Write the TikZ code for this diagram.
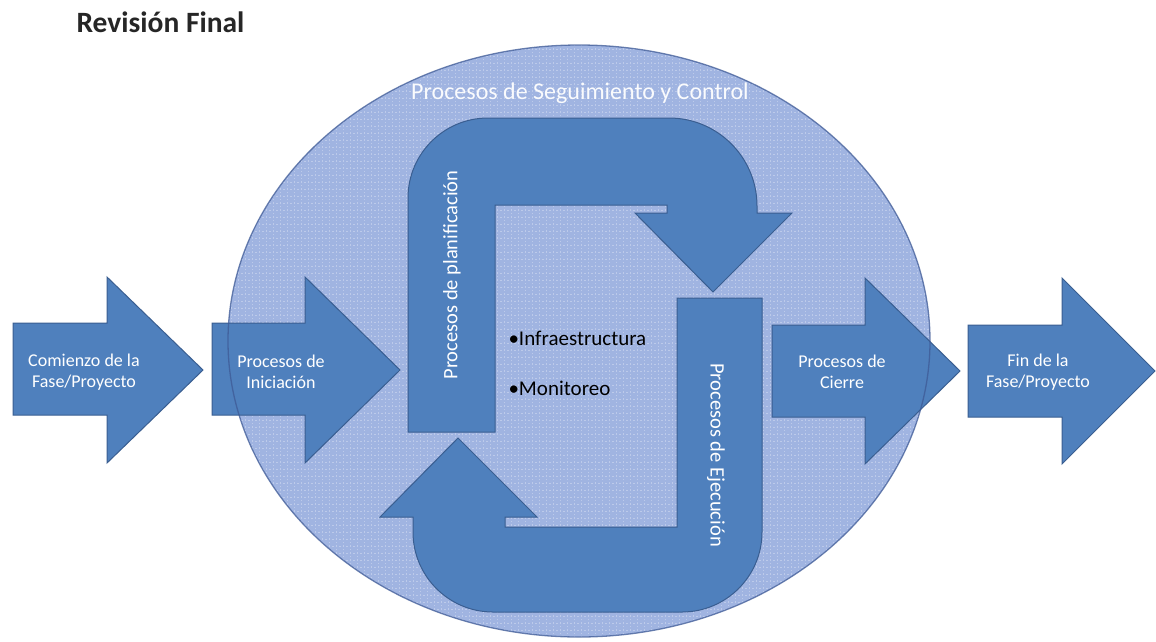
\documentclass[tikz,border=0pt]{standalone}
\usepackage{fontspec}
\setmainfont{Carlito}
\definecolor{arrowblue}{RGB}{79,128,189}
\definecolor{arrowedge}{RGB}{58,94,145}
\definecolor{ringfill}{RGB}{160,180,225}
\definecolor{ringedge}{RGB}{62,90,150}
\begin{document}
\begin{tikzpicture}[x=1pt,y=-1pt,
  blockarr/.style={fill=arrowblue, draw=arrowedge, line width=1pt, line join=miter},
  arrtext/.style={text=white, align=center, font=\fontsize{18}{21}\selectfont},
  bartext/.style={text=white, font=\fontsize{20.5}{24}\selectfont},
  listtext/.style={text=black, anchor=west, font=\fontsize{21}{24}\selectfont}]
\useasboundingbox (0,0) rectangle (1156,641);
\fill[white] (0,0) rectangle (1156,641);

% monitoring ring with its fine grid texture
\fill[ringfill] (579,341) ellipse [x radius=351, y radius=296];
\begin{scope}
  \clip (579,341) ellipse [x radius=351, y radius=296];
  \draw[white, opacity=0.3, line width=0.9pt, dash pattern=on 1.5pt off 2pt]
    (220,40) grid[step=7pt] (940,641);
\end{scope}

% straight phase arrows
\draw[blockarr] (13,323) -- (107,323) -- (107,277) -- (203,370) -- (107,463) -- (107,415) -- (13,415) -- cycle;
\draw[blockarr] (212,323) -- (305,323) -- (305,277) -- (400,370) -- (305,463) -- (305,415) -- (212,415) -- cycle;
\draw[blockarr] (772,325) -- (865,325) -- (865,278) -- (960,371) -- (865,464) -- (865,417) -- (772,417) -- cycle;
\draw[blockarr] (968,325) -- (1062,325) -- (1062,278) -- (1155,371) -- (1062,464) -- (1062,417) -- (968,417) -- cycle;

% ring outline laid over the arrows
\draw[ringedge, opacity=0.75, line width=1.3pt] (579,341) ellipse [x radius=351, y radius=296];

% planning U-turn arrow
\draw[blockarr] (408,432) -- (408,198) arc[start angle=180, end angle=270, radius=80]
  -- (669,118) arc[start angle=270, end angle=360, radius=88]
  -- (757,213) -- (792,213) -- (713,292) -- (635,213) -- (667,213) -- (667,205)
  -- (495,205) -- (495,432) -- cycle;

% execution U-turn arrow
\draw[blockarr] (677,298) -- (762,298) -- (762,532) arc[start angle=0, end angle=90, radius=80]
  -- (493,612) arc[start angle=90, end angle=180, radius=80]
  -- (413,517) -- (380,517) -- (458,438) -- (537,517) -- (505,517) -- (505,527)
  -- (677,527) -- cycle;

% labels
\node[anchor=west, text=black!85, font=\bfseries\fontsize{29.5}{32}\selectfont] (title) at (73,22) {Revisión Final};
\node[text=white!95!ringfill, font=\fontsize{24}{28}\selectfont] (control) at (580,93) {Procesos de Seguimiento y Control};
\node[arrtext] (start) at (84,372) {Comienzo de la\\Fase/Proyecto};
\node[arrtext] (init) at (281,372) {Procesos de\\Iniciación};
\node[arrtext] (close) at (842,372) {Procesos de\\Cierre};
\node[arrtext] (finish) at (1038,372) {Fin de la\\Fase/Proyecto};
\node[bartext, rotate=90] (plan) at (452,275) {Procesos de planificación};
\node[bartext, rotate=-90] (exec) at (716,455) {Procesos de Ejecución};
\node[listtext] (infra) at (505,338) {•Infraestructura};
\node[listtext] (monitor) at (505,388) {•Monitoreo};
\end{tikzpicture}
\end{document}
